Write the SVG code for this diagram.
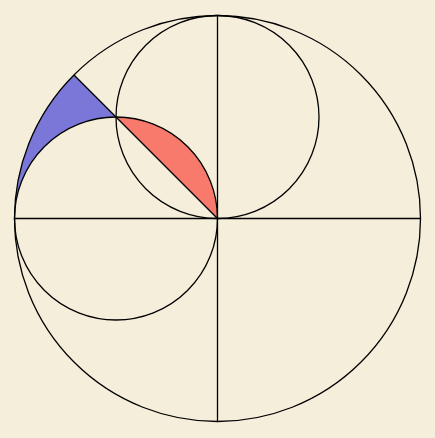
<svg xmlns="http://www.w3.org/2000/svg" width="435" height="438" viewBox="0 0 435 438">
<style>
.s{fill:none;stroke:#000;stroke-width:1.3}
</style>
<rect width="435" height="438" fill="#f4eeda"/>
<g id="regions" stroke="none">
<path id="blue" d="M14.5,218.5 A203,203 0 0 1 73.96,74.96 L116,117 A101.5,101.5 0 0 0 14.5,218.5 Z" fill="#7a77d9"/>
<path id="red" d="M116,117 A101.5,101.5 0 0 1 217.5,218.5 Z" fill="#f77a6c"/>
</g>
<g id="shapes" class="s">
<circle id="big" cx="217.5" cy="218.5" r="203"/>
<circle id="top" cx="217.5" cy="117" r="101.5"/>
<circle id="left" cx="116" cy="218.5" r="101.5"/>
<line x1="14.5" y1="218.5" x2="420.5" y2="218.5"/>
<line x1="217.5" y1="15.5" x2="217.5" y2="421.5"/>
<line x1="73.96" y1="74.96" x2="217.5" y2="218.5"/>
</g>
</svg>
